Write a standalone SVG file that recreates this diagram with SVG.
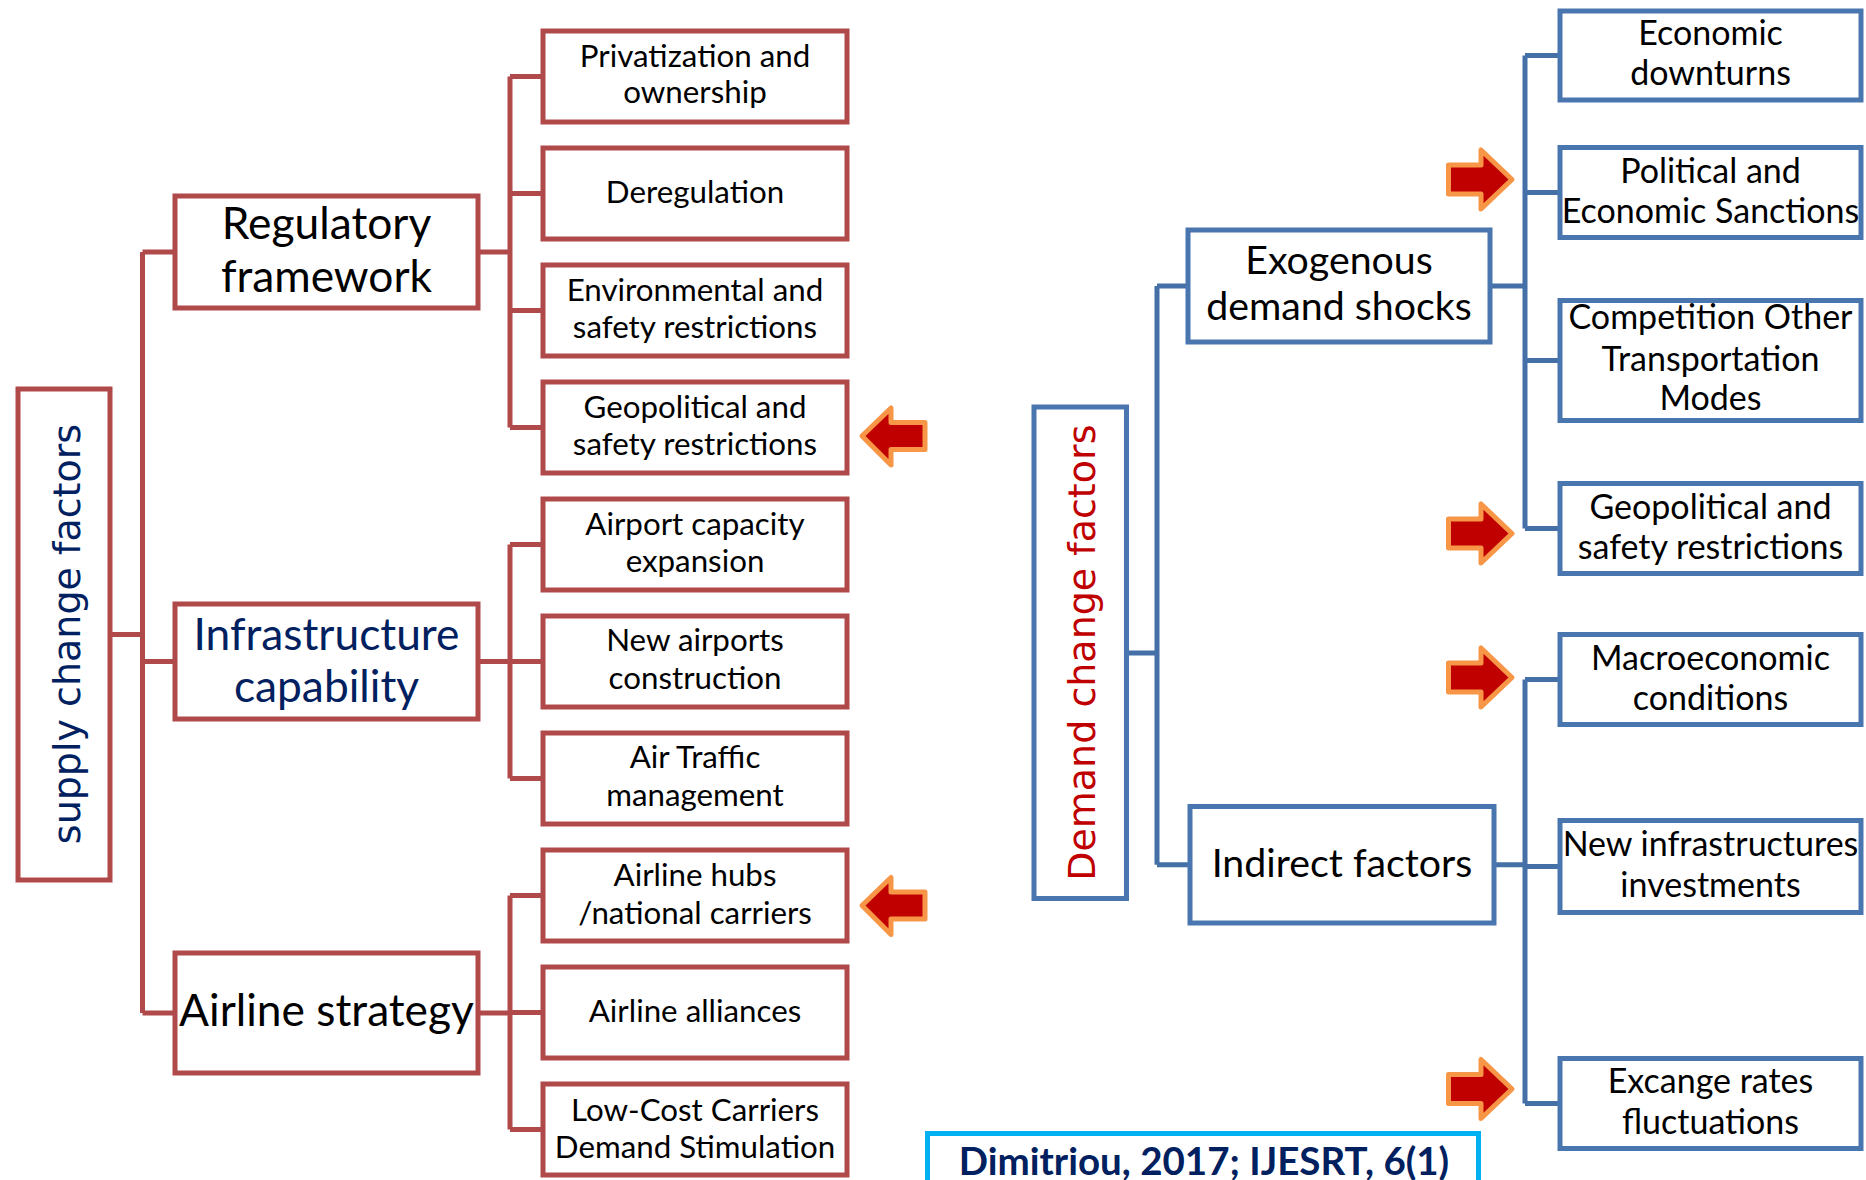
<svg xmlns="http://www.w3.org/2000/svg" width="1866" height="1180" viewBox="0 0 1866 1180">
<style>
.r{fill:#fff;stroke:#B0494A;stroke-width:5}
.b{fill:#fff;stroke:#4A76B0;stroke-width:5}
.cr{fill:none;stroke:#B0494A;stroke-width:5}
.cb{fill:none;stroke:#456FA7;stroke-width:5}
.arr{fill:#C00000;stroke:#F79646;stroke-width:5;stroke-linejoin:round}
text{font-family:Lato,"Liberation Sans",sans-serif;text-anchor:middle;fill:#000}
.s{font-size:31.3px}
.m{font-size:34px}
.L{font-size:44.3px}
.E{font-size:39.3px}
.v{font-family:"DejaVu Sans",sans-serif;font-size:38px}
.navy{fill:#002060}
.red{fill:#C00000}
</style>
<defs>
<path id="al" d="M862 436 L891 408 L891 422.5 L925 422.5 L925 449.5 L891 449.5 L891 465 Z"/>
<path id="ar" d="M1512 179.5 L1481 150 L1481 165 L1448.5 165 L1448.5 194 L1481 194 L1481 209 Z"/>
</defs>

<g id="connectors">
<path class="cr" d="M110 634.5 H142.5 M142.5 252 V1013 M142.5 252 H175 M142.5 661.5 H175 M142.5 1013 H175"/>
<path class="cr" d="M478 252 H510 M510 76.5 V427.5 M510 76.5 H543 M510 193.5 H543 M510 310.5 H543 M510 427.5 H543"/>
<path class="cr" d="M478 661.5 H510 M510 544.5 V778.5 M510 544.5 H543 M510 661.5 H543 M510 778.5 H543"/>
<path class="cr" d="M478 1013 H510 M510 895.5 V1129.5 M510 895.5 H543 M510 1012.5 H543 M510 1129.5 H543"/>
<path class="cb" d="M1126.5 653 H1157 M1157 286 V864.7 M1157 286 H1188 M1157 864.7 H1190"/>
<path class="cb" d="M1490 286 H1525 M1525 55.5 V528.5 M1525 55.5 H1560 M1525 192.5 H1560 M1525 360.5 H1560 M1525 528.5 H1560"/>
<path class="cb" d="M1494 864.7 H1525 M1525 679.5 V1103.5 M1525 679.5 H1560 M1525 866.5 H1560 M1525 1103.5 H1560"/>
</g>

<g id="supply">
<rect class="r" x="18" y="389" width="92" height="491"/>
<text class="v navy" x="80" y="634" transform="rotate(-90 80 634)">supply change factors</text>
</g>
<g id="regulatory">
<rect class="r" x="175" y="196" width="303" height="112"/>
<text class="L" x="326.5" y="238.5">Regulatory</text>
<text class="L" x="326.5" y="292">framework</text>
</g>
<g id="infrastructure">
<rect class="r" x="175" y="604" width="303" height="115"/>
<text class="L navy" x="326.5" y="650">Infrastructure</text>
<text class="L navy" x="326.5" y="702">capability</text>
</g>
<g id="airline-strategy">
<rect class="r" x="175" y="953" width="303" height="120"/>
<text class="L" x="326.5" y="1026">Airline strategy</text>
</g>

<g id="privatization">
<rect class="r" x="543" y="31" width="304" height="91"/>
<text class="s" x="695" y="67">Privatization and</text>
<text class="s" x="695" y="103">ownership</text>
</g>
<g id="deregulation">
<rect class="r" x="543" y="148" width="304" height="91"/>
<text class="s" x="695" y="202.5">Deregulation</text>
</g>
<g id="environmental">
<rect class="r" x="543" y="265" width="304" height="91"/>
<text class="s" x="695" y="300.5">Environmental and</text>
<text class="s" x="695" y="338">safety restrictions</text>
</g>
<g id="geopolitical-left">
<rect class="r" x="543" y="382" width="304" height="91"/>
<text class="s" x="695" y="417.5">Geopolitical and</text>
<text class="s" x="695" y="455">safety restrictions</text>
</g>
<g id="airport-capacity">
<rect class="r" x="543" y="499" width="304" height="91"/>
<text class="s" x="695" y="534.5">Airport capacity</text>
<text class="s" x="695" y="572">expansion</text>
</g>
<g id="new-airports">
<rect class="r" x="543" y="616" width="304" height="91"/>
<text class="s" x="695" y="651">New airports</text>
<text class="s" x="695" y="689">construction</text>
</g>
<g id="air-traffic">
<rect class="r" x="543" y="733" width="304" height="91"/>
<text class="s" x="695" y="768">Air Traffic</text>
<text class="s" x="695" y="806">management</text>
</g>
<g id="airline-hubs">
<rect class="r" x="543" y="850" width="304" height="91"/>
<text class="s" x="695" y="886">Airline hubs</text>
<text class="s" x="695" y="924">/national carriers</text>
</g>
<g id="airline-alliances">
<rect class="r" x="543" y="967" width="304" height="91"/>
<text class="s" x="695" y="1022">Airline alliances</text>
</g>
<g id="low-cost">
<rect class="r" x="543" y="1084" width="304" height="91"/>
<text class="s" x="695" y="1120.5">Low-Cost Carriers</text>
<text class="s" x="695" y="1158">Demand Stimulation</text>
</g>

<g id="demand">
<rect class="b" x="1034" y="407" width="92.5" height="491.5"/>
<text class="v red" x="1095" y="652.7" transform="rotate(-90 1095 652.7)">Demand change factors</text>
</g>
<g id="exogenous">
<rect class="b" x="1188" y="230" width="302" height="112"/>
<text class="E" x="1339" y="274">Exogenous</text>
<text class="E" x="1339" y="320">demand shocks</text>
</g>
<g id="indirect">
<rect class="b" x="1190" y="806.5" width="304" height="116.5"/>
<text class="E" x="1342" y="876.6">Indirect factors</text>
</g>

<g id="economic-downturns">
<rect class="b" x="1560" y="11" width="301" height="89"/>
<text class="m" x="1710.5" y="45">Economic</text>
<text class="m" x="1710.5" y="85">downturns</text>
</g>
<g id="political">
<rect class="b" x="1560" y="147.5" width="301" height="90"/>
<text class="m" x="1710.5" y="183">Political and</text>
<text class="m" x="1710.5" y="223">Economic Sanctions</text>
</g>
<g id="competition">
<rect class="b" x="1560" y="300.5" width="301" height="120"/>
<text class="m" x="1710.5" y="329">Competition Other</text>
<text class="m" x="1710.5" y="370.5">Transportation</text>
<text class="m" x="1710.5" y="409.5">Modes</text>
</g>
<g id="geopolitical-right">
<rect class="b" x="1560" y="483.5" width="301" height="90"/>
<text class="m" x="1710.5" y="518.6">Geopolitical and</text>
<text class="m" x="1710.5" y="558.7">safety restrictions</text>
</g>
<g id="macroeconomic">
<rect class="b" x="1560" y="634.5" width="301" height="90"/>
<text class="m" x="1710.5" y="670">Macroeconomic</text>
<text class="m" x="1710.5" y="710">conditions</text>
</g>
<g id="new-infrastructures">
<rect class="b" x="1560" y="820.5" width="301" height="92"/>
<text class="m" x="1710.5" y="855.5">New infrastructures</text>
<text class="m" x="1710.5" y="897">investments</text>
</g>
<g id="exchange-rates">
<rect class="b" x="1560" y="1058.5" width="301" height="90"/>
<text class="m" x="1710.5" y="1092.8">Excange rates</text>
<text class="m" x="1710.5" y="1134">fluctuations</text>
</g>

<g id="arrows">
<use href="#al" class="arr"/>
<use href="#al" class="arr" transform="translate(0 469.5)"/>
<use href="#ar" class="arr"/>
<use href="#ar" class="arr" transform="translate(0 354)"/>
<use href="#ar" class="arr" transform="translate(0 498)"/>
<use href="#ar" class="arr" transform="translate(0 909.5)"/>
</g>

<g id="citation">
<rect x="927.5" y="1133.5" width="551" height="70" fill="#fff" stroke="#00B0F0" stroke-width="5"/>
<text x="1204" y="1175" style="font-size:38.5px;font-weight:bold;fill:#002060">Dimitriou, 2017; IJESRT, 6(1)</text>
</g>
</svg>
